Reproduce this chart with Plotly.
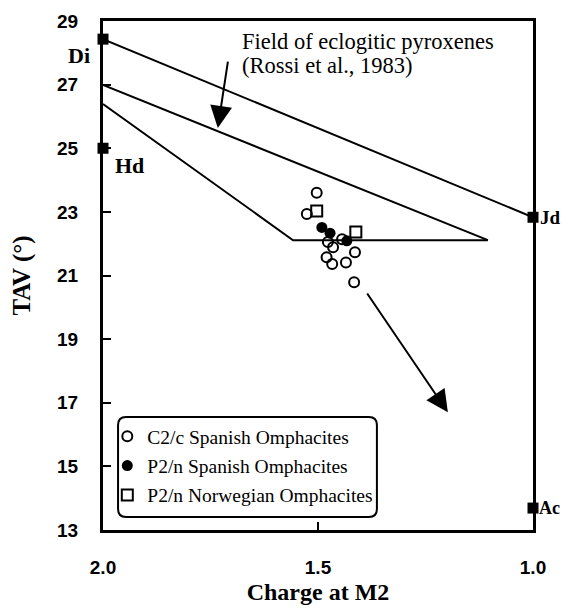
import plotly.graph_objects as go

# --- data ---------------------------------------------------------------
c2c_spanish_x = [1.503, 1.526, 1.477, 1.465, 1.444, 1.480, 1.467, 1.435, 1.414, 1.416]
c2c_spanish_y = [23.60, 22.93, 22.05, 21.89, 22.14, 21.57, 21.36, 21.41, 21.73, 20.79]

p2n_spanish_x = [1.491, 1.472, 1.433]
p2n_spanish_y = [22.51, 22.33, 22.09]

p2n_norwegian_x = [1.503, 1.412]
p2n_norwegian_y = [23.03, 22.37]

endmember_names = ["Di", "Hd", "Jd", "Ac"]
endmember_x = [2.0, 2.0, 1.0, 1.0]
endmember_y = [28.43, 25.0, 22.83, 13.69]

# Di - Jd join
dijd_x = [2.0, 1.0]
dijd_y = [28.43, 22.83]

# field of eclogitic pyroxenes (Rossi et al., 1983)
field_upper_x = [2.0, 1.105]
field_upper_y = [26.99, 22.11]
field_lower_x = [2.0, 1.558, 1.105]
field_lower_y = [26.39, 22.11, 22.11]

# arrows: (tail_x, tail_y, tip_x, tip_y)
field_arrow = (1.709, 27.77, 1.733, 25.64)
trend_arrow = (1.388, 20.48, 1.198, 16.70)

x_ticks = [2.0, 1.5, 1.0]
y_ticks = [13, 15, 17, 19, 21, 23, 25, 27, 29]

SERIF = "Liberation Serif, Times New Roman, serif"
SANS = "Liberation Sans, Arial, sans-serif"

fig = go.Figure()

line_style = dict(color="black", width=2)
fig.add_trace(go.Scatter(x=dijd_x, y=dijd_y, mode="lines", line=line_style,
                         showlegend=False, hoverinfo="skip"))
fig.add_trace(go.Scatter(x=field_upper_x, y=field_upper_y, mode="lines", line=line_style,
                         showlegend=False, hoverinfo="skip"))
fig.add_trace(go.Scatter(x=field_lower_x, y=field_lower_y, mode="lines", line=line_style,
                         showlegend=False, hoverinfo="skip"))

fig.add_trace(go.Scatter(x=endmember_x, y=endmember_y, mode="markers",
                         marker=dict(symbol="square", size=11, color="black"),
                         cliponaxis=False, showlegend=False, hoverinfo="skip"))

fig.add_trace(go.Scatter(x=c2c_spanish_x, y=c2c_spanish_y, mode="markers",
                         name="C2/c Spanish Omphacites", legendgroup="a",
                         marker=dict(symbol="circle-open", size=10, color="black",
                                     line=dict(width=2, color="black"))))
fig.add_trace(go.Scatter(x=p2n_spanish_x, y=p2n_spanish_y, mode="markers",
                         name="P2/n Spanish Omphacites", legendgroup="b",
                         marker=dict(symbol="circle", size=11, color="black")))
fig.add_trace(go.Scatter(x=p2n_norwegian_x, y=p2n_norwegian_y, mode="markers",
                         name="P2/n Norwegian Omphacites", legendgroup="c",
                         marker=dict(symbol="square-open", size=11, color="black",
                                     line=dict(width=2, color="black"))))

annotations = []
for (tx, ty, hx, hy) in (field_arrow, trend_arrow):
    annotations.append(dict(x=hx, y=hy, ax=tx, ay=ty, xref="x", yref="y",
                            axref="x", ayref="y", showarrow=True, arrowhead=2,
                            arrowsize=2.2, arrowwidth=2, arrowcolor="black", text=""))

annotations.append(dict(x=1.681, y=28.37, xref="x", yref="y", xanchor="left", yanchor="middle",
                        text="Field of eclogitic pyroxenes", showarrow=False,
                        font=dict(family=SERIF, size=22.5, color="black")))
annotations.append(dict(x=1.681, y=27.60, xref="x", yref="y", xanchor="left", yanchor="middle",
                        text="(Rossi et al., 1983)", showarrow=False,
                        font=dict(family=SERIF, size=22.5, color="black")))

label_pos = {
    "Di": dict(xanchor="right", xshift=-11, yoff=-0.5, size=22),
    "Hd": dict(xanchor="left", xshift=10, yoff=-0.55, size=22),
    "Jd": dict(xanchor="left", xshift=5, yoff=0.0, size=19),
    "Ac": dict(xanchor="left", xshift=4, yoff=0.0, size=18),
}
for name, xv, yv in zip(endmember_names, endmember_x, endmember_y):
    p = label_pos[name]
    annotations.append(dict(x=xv, y=yv + p["yoff"], xref="x", yref="y", text="<b>%s</b>" % name,
                            xanchor=p["xanchor"], xshift=p["xshift"], yanchor="middle",
                            showarrow=False, font=dict(family=SERIF, size=p["size"], color="black")))

# rounded legend frame (paper coordinates)
lx0, lx1, ly0, ly1 = 0.035, 0.637, 0.0255, 0.222
rx, ry = 8 / 430, 8 / 509
legend_path = (
    f"M {lx0 + rx},{ly1} L {lx1 - rx},{ly1} Q {lx1},{ly1} {lx1},{ly1 - ry} "
    f"L {lx1},{ly0 + ry} Q {lx1},{ly0} {lx1 - rx},{ly0} "
    f"L {lx0 + rx},{ly0} Q {lx0},{ly0} {lx0},{ly0 + ry} "
    f"L {lx0},{ly1 - ry} Q {lx0},{ly1} {lx0 + rx},{ly1} Z"
)

# the page body adds an 8px margin around the figure, so keep it inside the window
fig.update_layout(
    width=554, height=597,
    margin=dict(l=95, r=29, t=13, b=75),
    paper_bgcolor="white", plot_bgcolor="white",
    annotations=annotations,
    shapes=[dict(type="path", path=legend_path, xref="paper", yref="paper",
                 line=dict(color="black", width=2), fillcolor="white", layer="below")],
    legend=dict(x=0.010, y=0.222, xanchor="left", yanchor="top",
                bgcolor="rgba(0,0,0,0)", borderwidth=0,
                font=dict(family=SERIF, size=19.5, color="black"),
                tracegroupgap=1, itemwidth=30),
    showlegend=True,
)

fig.update_xaxes(range=[2.0, 1.0], tickvals=x_ticks, ticktext=["%.1f" % v for v in x_ticks],
                 showgrid=False, zeroline=False, showline=True, linecolor="black", linewidth=3,
                 mirror=True, ticks="inside", ticklen=8, tickwidth=2, tickcolor="black",
                 ticklabelstandoff=18, automargin=False,
                 tickfont=dict(family=SANS, size=19, color="black", weight="bold"),
                 title=dict(text="<b>Charge at M2</b>", standoff=8,
                            font=dict(family=SERIF, size=24, color="black")))
fig.update_yaxes(range=[13, 29], tickvals=y_ticks, ticktext=[str(v) for v in y_ticks],
                 showgrid=False, zeroline=False, showline=True, linecolor="black", linewidth=3,
                 mirror=True, ticks="inside", ticklen=8, tickwidth=2, tickcolor="black",
                 ticklabelstandoff=18, automargin=False,
                 tickfont=dict(family=SANS, size=19, color="black", weight="bold"),
                 title=dict(text="<b>TAV (°)</b>", standoff=30,
                            font=dict(family=SERIF, size=25, color="black")))

fig.write_html("out.html")
